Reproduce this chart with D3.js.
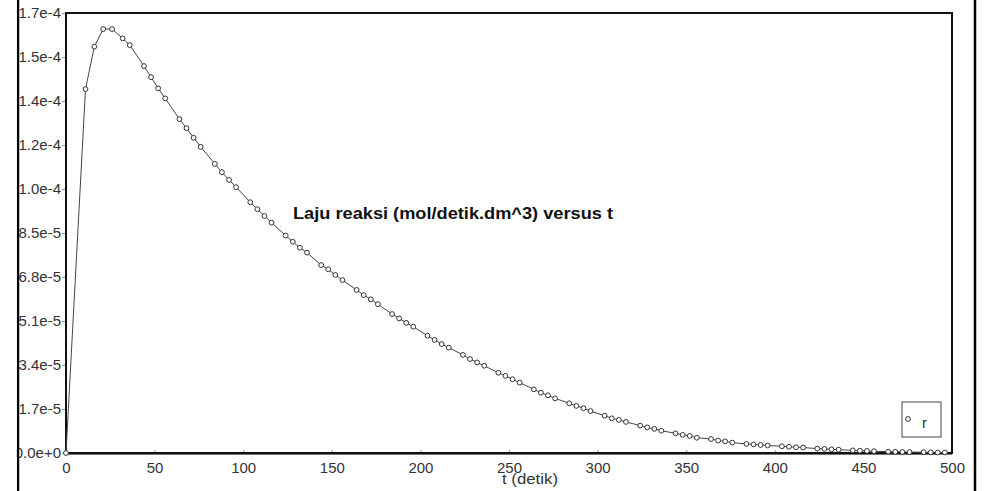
<!DOCTYPE html>
<html>
<head>
<meta charset="utf-8">
<script src="https://cdn.jsdelivr.net/npm/d3@7"></script>
<style>
body { margin: 0; background: #fff; }
svg { display: block; font-family: Arial, "Liberation Sans", sans-serif; }
</style>
</head>
<body>
<svg id="chart" width="985" height="491"></svg>
<script>
var W = 985, H = 491;
var PLOT_L = 66, PLOT_R = 952, PLOT_T = 13, PLOT_B = 453;

// time (s) and rate r (mol/s.dm^3)
var tVals = [0, 11, 16, 21, 26, 32, 36, 44, 48, 52, 56, 64, 68, 72, 76, 84, 88, 92, 96,
	104, 108, 112, 116, 124, 128, 132, 136, 144, 148, 152, 156, 164, 168, 172, 176,
	184, 188, 192, 196, 204, 208, 212, 216, 224, 228, 232, 236, 244, 248, 252, 256,
	264, 268, 272, 276, 284, 288, 292, 296, 304, 308, 312, 316, 324, 328, 332, 336,
	344, 348, 352, 356, 364, 368, 372, 376, 384, 388, 392, 396, 404, 408, 412, 416,
	424, 428, 432, 436, 444, 448, 452, 456, 464, 468, 472, 476, 484, 488, 492, 496];
var rVals = [0, 1.406e-4, 1.570e-4, 1.638e-4, 1.638e-4, 1.602e-4, 1.576e-4,
	1.495e-4, 1.452e-4, 1.409e-4, 1.370e-4, 1.290e-4, 1.255e-4, 1.218e-4, 1.183e-4,
	1.117e-4, 1.085e-4, 1.055e-4, 1.027e-4, 9.69e-5, 9.42e-5, 9.16e-5, 8.90e-5,
	8.40e-5, 8.16e-5, 7.93e-5, 7.74e-5, 7.26e-5, 7.10e-5, 6.88e-5, 6.68e-5,
	6.30e-5, 6.10e-5, 5.94e-5, 5.75e-5, 5.37e-5, 5.20e-5, 5.03e-5, 4.88e-5,
	4.53e-5, 4.37e-5, 4.21e-5, 4.07e-5, 3.79e-5, 3.63e-5, 3.50e-5, 3.37e-5,
	3.10e-5, 2.98e-5, 2.85e-5, 2.72e-5, 2.46e-5, 2.33e-5, 2.23e-5, 2.11e-5,
	1.92e-5, 1.82e-5, 1.73e-5, 1.62e-5, 1.44e-5, 1.34e-5, 1.28e-5, 1.20e-5,
	1.06e-5, 9.9e-6, 9.3e-6, 8.6e-6, 7.6e-6, 7.0e-6, 6.6e-6, 5.9e-6,
	5.4e-6, 4.8e-6, 4.5e-6, 4.0e-6, 3.5e-6, 3.3e-6, 3.1e-6, 2.9e-6,
	2.6e-6, 2.4e-6, 2.2e-6, 2.1e-6, 1.7e-6, 1.6e-6, 1.4e-6, 1.3e-6,
	1.0e-6, 9e-7, 8e-7, 7e-7, 5e-7, 4.5e-7, 4e-7, 3.5e-7, 3e-7, 2.5e-7, 2e-7, 2e-7];

var xTicks = [0, 50, 100, 150, 200, 250, 300, 350, 400, 450, 500];
var yTicks = [0, 1.7e-5, 3.4e-5, 5.1e-5, 6.8e-5, 8.5e-5, 1.02e-4, 1.19e-4, 1.36e-4, 1.53e-4, 1.7e-4];
var yTickLabels = ["0.0e+0", "1.7e-5", "3.4e-5", "5.1e-5", "6.8e-5", "8.5e-5",
	"1.0e-4", "1.2e-4", "1.4e-4", "1.5e-4", "1.7e-4"];

var TITLE = "Laju reaksi (mol/detik.dm^3) versus t";
var X_LABEL = "t (detik)";
var SERIES_NAME = "r";

var svg = d3.select("#chart");
svg.append("rect").attr("width", W).attr("height", H).style("fill", "#fff");

var x = d3.scaleLinear().domain([0, 500]).range([PLOT_L, PLOT_R]);
var y = d3.scaleLinear().domain([0, 1.7e-4]).range([PLOT_B, PLOT_T]);

// axes
var yAxis = d3.axisLeft(y)
	.tickValues(yTicks)
	.tickFormat(function(d, i) { return yTickLabels[i]; })
	.tickSizeInner(4).tickSizeOuter(0).tickPadding(1);
var gy = svg.append("g").attr("transform", "translate(" + PLOT_L + ",0)").call(yAxis);

var xAxis = d3.axisBottom(x)
	.tickValues(xTicks)
	.tickFormat(d3.format("d"))
	.tickSizeInner(-3).tickSizeOuter(0).tickPadding(9);
var gx = svg.append("g").attr("transform", "translate(0," + PLOT_B + ")").call(xAxis);

[gx, gy].forEach(function(g) {
	g.select(".domain").remove();
	g.selectAll(".tick line").style("stroke", "#999");
	g.selectAll(".tick text").style("font-size", "15px").style("fill", "#333")
		.style("font-family", "Arial, 'Liberation Sans', sans-serif");
});

// outer window edges (drawn over the clipped 0.0e+0 label)
svg.append("line").attr("x1", 18).attr("x2", 18).attr("y1", 0).attr("y2", H)
	.style("stroke", "#000").style("stroke-width", 2.5);
svg.append("rect").attr("x", 0).attr("y", 0).attr("width", 16.8).attr("height", H)
	.style("fill", "#fff");
svg.append("line").attr("x1", 975).attr("x2", 975).attr("y1", 0).attr("y2", H)
	.style("stroke", "#000").style("stroke-width", 2.5);

// plot frame
svg.append("rect")
	.attr("x", PLOT_L).attr("y", PLOT_T)
	.attr("width", PLOT_R - PLOT_L).attr("height", PLOT_B - PLOT_T)
	.style("fill", "none").style("stroke", "#111").style("stroke-width", 2);
svg.append("line").attr("x1", PLOT_L).attr("x2", PLOT_R)
	.attr("y1", PLOT_B + 1.5).attr("y2", PLOT_B + 1.5)
	.style("stroke", "#777").style("stroke-width", 1);

// series
var data = tVals.map(function(t, i) { return {t: t, r: rVals[i]}; });
var line = d3.line().x(function(d) { return x(d.t); }).y(function(d) { return y(d.r); });

svg.append("path").datum(data).attr("d", line)
	.style("fill", "none").style("stroke", "#444").style("stroke-width", 1);

svg.selectAll("circle.pt").data(data).enter().append("circle")
	.attr("class", "pt")
	.attr("cx", function(d) { return x(d.t); })
	.attr("cy", function(d) { return y(d.r); })
	.attr("r", 2.4)
	.style("fill", "#fff").style("stroke", "#333").style("stroke-width", 1);

// title inside the plot
svg.append("text").attr("x", 293).attr("y", 219)
	.attr("textLength", 320).attr("lengthAdjust", "spacingAndGlyphs")
	.style("font-size", "16px").style("font-weight", "bold").style("fill", "#111")
	.text(TITLE);

// x label
svg.append("text").attr("x", 502).attr("y", 484)
	.attr("textLength", 56).attr("lengthAdjust", "spacingAndGlyphs")
	.style("font-size", "15px").style("fill", "#333")
	.text(X_LABEL);

// legend
var lg = svg.append("g");
lg.append("rect").attr("x", 902).attr("y", 402).attr("width", 39).attr("height", 35)
	.style("fill", "#fff").style("stroke", "#444").style("stroke-width", 1);
lg.append("circle").attr("cx", 908).attr("cy", 419).attr("r", 2.4)
	.style("fill", "#fff").style("stroke", "#333").style("stroke-width", 1);
lg.append("text").attr("x", 922).attr("y", 428)
	.style("font-size", "15px").style("fill", "#333")
	.text(SERIES_NAME);
</script>
</body>
</html>
